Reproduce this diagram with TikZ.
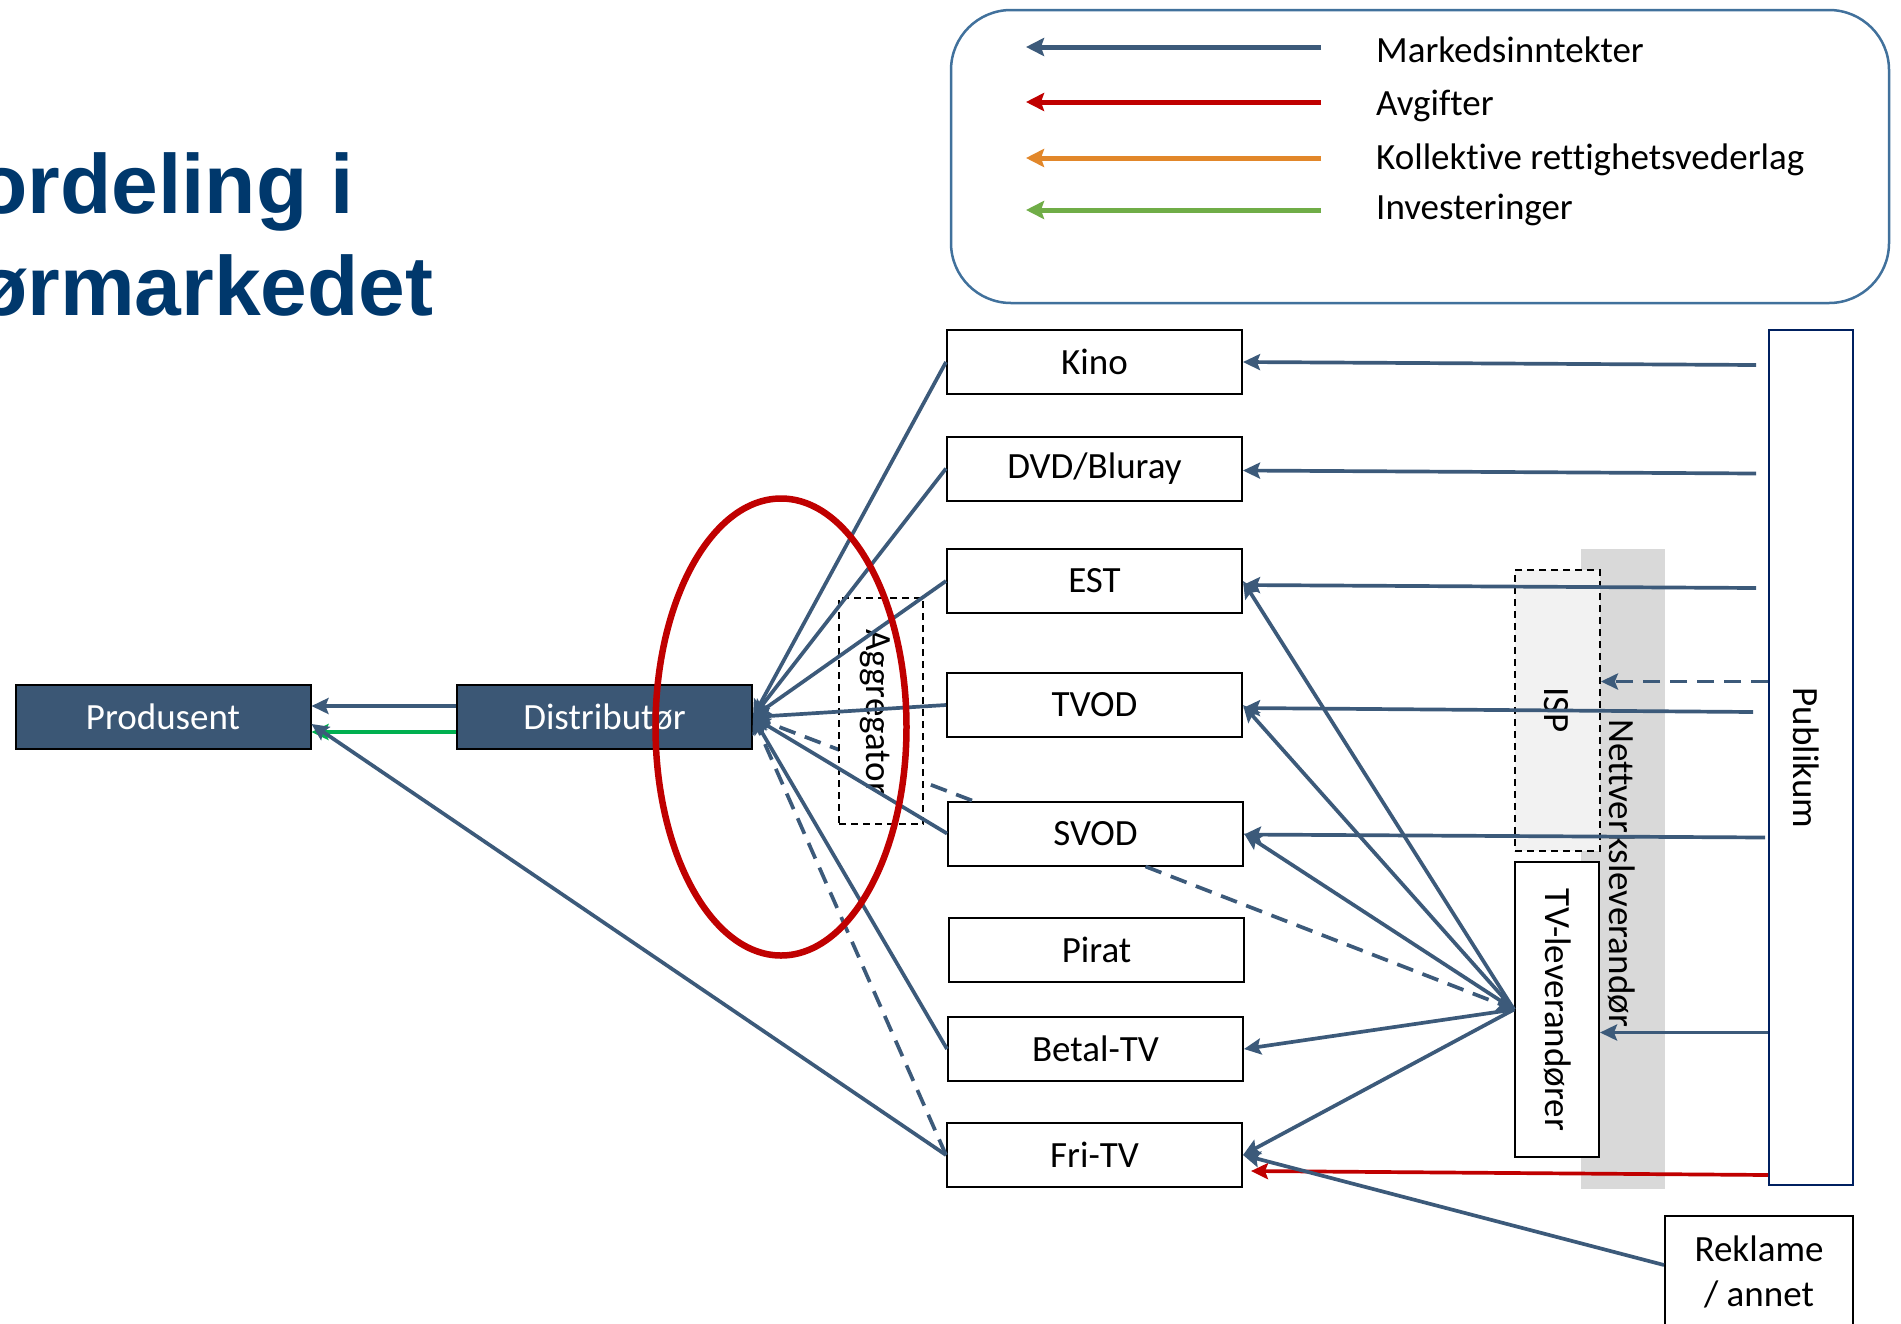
\documentclass[tikz,border=0pt]{standalone}
\usepackage{fontspec}
\setmainfont{Carlito}[Ligatures=NoCommon]
\newfontfamily\titlefont{Liberation Sans}
\usetikzlibrary{shapes.geometric,arrows.meta,calc}
\definecolor{lineblue}{RGB}{60,90,122}
\definecolor{boxblue}{RGB}{59,87,117}
\definecolor{legblue}{RGB}{65,113,156}
\definecolor{myred}{RGB}{192,0,0}
\definecolor{myorange}{RGB}{226,135,42}
\definecolor{mygreen}{RGB}{112,173,71}
\definecolor{brightgreen}{RGB}{0,176,80}
\definecolor{titleblue}{RGB}{0,56,108}
\definecolor{navyline}{RGB}{0,32,96}
\definecolor{bandgray}{RGB}{217,217,217}
\definecolor{ispgray}{RGB}{242,242,242}
\begin{document}
\begin{tikzpicture}[x=1pt,y=-1pt,
  lbl/.style={font=\fontsize{37}{45}\selectfont},
  outlet/.style={draw=black, line width=2pt, fill=white, minimum width=295pt, minimum height=64pt, inner sep=0pt, lbl},
  darkbox/.style={draw=black, line width=2pt, fill=boxblue, text=white, minimum width=295pt, minimum height=64pt, inner sep=0pt, lbl},
  conn/.style={draw=lineblue, line width=3.7pt},
  arr/.style={conn, -{Stealth[length=17pt,width=16pt,inset=3pt]}},
  legarr/.style={line width=5pt, -{Stealth[length=18pt,width=18pt,inset=3pt]}},
  dashconn/.style={dash pattern=on 17pt off 10pt},
  thindash/.style={draw=black, line width=1.8pt, dash pattern=on 7pt off 5pt},
  rottext/.style={lbl, rotate=-90, inner sep=0pt}
]
\useasboundingbox (0,0) rectangle (1901,1323);
\clip (0,0) rectangle (1901,1323);
\fill[white] (0,0) rectangle (1901,1323);

% title
\node[font=\titlefont\fontsize{84}{90}\selectfont\bfseries, text=titleblue, anchor=base west, inner sep=0pt] (title1) at (-24,213) {ordeling i};
\node[font=\titlefont\fontsize{84}{90}\selectfont\bfseries, text=titleblue, anchor=base west, inner sep=0pt] (title2) at (-24,315) {ørmarkedet};

% legend
\node[draw=legblue, line width=2.5pt, rounded corners=60pt, minimum width=938pt, minimum height=293pt, inner sep=0pt] (legend) at (1420,156.5) {};
\coordinate (l1s) at (1321,47);  \coordinate (l1e) at (1026,47);
\coordinate (l2s) at (1321,102); \coordinate (l2e) at (1026,102);
\coordinate (l3s) at (1321,158); \coordinate (l3e) at (1026,158);
\coordinate (l4s) at (1321,210); \coordinate (l4e) at (1026,210);
\draw[legarr, draw=lineblue] (l1s) -- (l1e);
\draw[legarr, draw=myred] (l2s) -- (l2e);
\draw[legarr, draw=myorange] (l3s) -- (l3e);
\draw[legarr, draw=mygreen] (l4s) -- (l4e);
\node[lbl, anchor=west, inner sep=0pt] (t1) at (1376,50) {Markedsinntekter};
\node[lbl, anchor=west, inner sep=0pt] (t2) at (1376,106) {Avgifter};
\node[lbl, anchor=west, inner sep=0pt] (t3) at (1376,160) {Kollektive rettighetsvederlag};
\node[lbl, anchor=west, inner sep=0pt] (t4) at (1376,210) {Investeringer};

% right-hand structures
\node[fill=bandgray, minimum width=84pt, minimum height=640pt, inner sep=0pt] (band) at (1623,869) {};
\node[thindash, fill=ispgray, minimum width=85pt, minimum height=281pt, inner sep=0pt] (isp) at (1557.5,710.5) {};
\node[rottext] (isptxt) at (1556,710) {ISP};
\node[draw=black, line width=2pt, fill=white, minimum width=84pt, minimum height=295pt, inner sep=0pt] (tvlev) at (1557,1009.5) {};
\node[rottext] (tvlevtxt) at (1558,1010) {TV-leverandører};
\node[rottext] (bandtxt) at (1622,873) {Nettverksleverandør};
\node[draw=navyline, line width=2pt, fill=white, minimum width=84pt, minimum height=855pt, inner sep=0pt] (pub) at (1811,757.5) {};
\node[rottext] (pubtxt) at (1806,758) {Publikum};
\node[draw=black, line width=2pt, fill=white, minimum width=188pt, minimum height=112pt, inner sep=0pt, lbl, align=center] (rek) at (1759,1272) {Reklame\\/ annet};

% left boxes
\node[darkbox] (prod) at (163,717) {Produsent};
\node[darkbox] (dist) at (604.5,717) {Distributør};

% outlets
\node[outlet] (kino) at (1094.5,362) {Kino};
\node[outlet] (dvd) at (1094.5,468.5) {DVD/Bluray};
\node[outlet] (est) at (1094.5,581) {EST};
\node[outlet] (tvod) at (1094.5,705) {TVOD};
\node[outlet] (svod) at (1095.5,833.5) {SVOD};
\node[outlet] (pirat) at (1096.5,950) {Pirat};
\node[outlet] (betal) at (1095.5,1049) {Betal-TV};
\node[outlet] (fritv) at (1094.5,1155) {Fri-TV};

% dashed via aggregator (hidden behind it)
\draw[arr, dashconn] ([xshift=25pt]svod.north west) -- (dist.east);
\node[thindash, fill=white, minimum width=84pt, minimum height=226pt, inner sep=0pt] (agg) at (881,711) {};
\node[rottext] (aggtxt) at (875,712) {Aggregator};

% fan into distributor
\foreach \n in {kino,dvd,est,tvod,svod,betal}
  \draw[arr] (\n.west) -- (dist.east);
\draw[arr, dashconn] (fritv.west) -- (dist.east);

% into producer
\draw[arr] ([yshift=11pt]dist.west) -- ([yshift=11pt]prod.east);
\draw[arr, draw=brightgreen] ([yshift=-15pt]dist.west) -- ([yshift=-15pt]prod.east);
\draw[arr] (fritv.west) -- ([yshift=-7pt]prod.east);

% from TV providers
\foreach \n in {est,tvod,svod,betal,fritv}
  \draw[arr] (tvlev.west) -- (\n.east);
\draw[arr, dashconn] ([xshift=50pt]svod.south) -- (tvlev.west);

% from audience
\draw[arr] ($(kino.east -| pub.west)+(-12pt,-3pt)$) -- (kino.east);
\draw[arr] ($(dvd.east -| pub.west)+(-12pt,-5pt)$) -- ([yshift=-2pt]dvd.east);
\draw[arr] ($(est.east -| pub.west)+(-12pt,-7pt)$) -- ([yshift=-4pt]est.east);
\draw[arr] ($(tvod.east -| pub.west)+(-15pt,-7pt)$) -- ([yshift=-3pt]tvod.east);
\draw[arr] ($(svod.east -| pub.west)+(-3pt,-4pt)$) -- ([yshift=-1pt]svod.east);
\draw[arr, dashconn] ($(isp.east -| pub.west)+(0pt,29pt)$) -- ([yshift=29pt]isp.east);
\draw[arr] ($(tvlev.east -| pub.west)+(0pt,-23pt)$) -- ([yshift=-23pt]tvlev.east);
\draw[arr, draw=myred] ($(fritv.east -| pub.west)+(0pt,-20pt)$) -- ([xshift=8pt,yshift=-16pt]fritv.east);
\draw[arr] ([yshift=7pt]rek.west) -- (fritv.east);

% red ring
\node[draw=myred, line width=6.5pt, ellipse, minimum width=251pt, minimum height=457pt, inner sep=0pt] (ring) at (781,727) {};
\end{tikzpicture}
\end{document}
